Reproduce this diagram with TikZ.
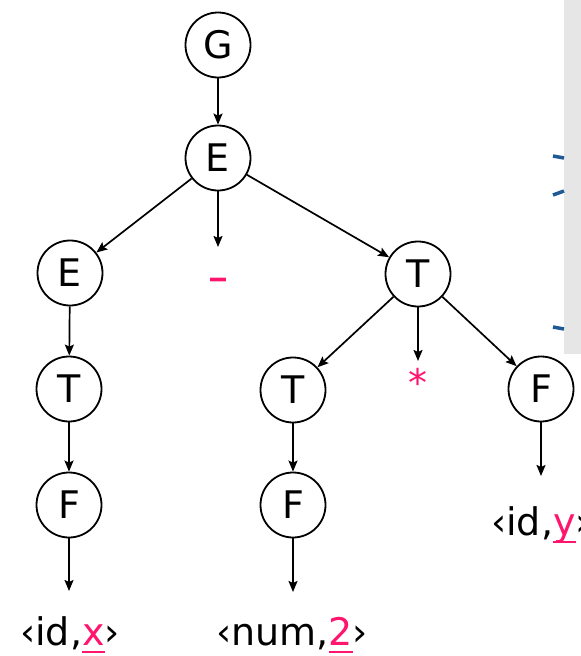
\documentclass[tikz,border=0pt]{standalone}
\usepackage{fontspec}
\setmainfont{DejaVu Sans}
\usetikzlibrary{arrows.meta}
\definecolor{pinkred}{RGB}{255,20,110}
\definecolor{greybox}{RGB}{230,230,230}
\definecolor{darkblue}{RGB}{31,90,150}
\newcommand{\pinkul}[1]{{\color{pinkred}\setbox0\hbox{#1}\rlap{\rule[-8pt]{\wd0}{2pt}}\box0}}
\begin{document}
\begin{tikzpicture}[x=1pt,y=-1pt,
  nt/.style={circle,draw,line width=1.8pt,minimum size=65pt,inner sep=0pt,fill=white,
    font=\fontsize{38}{46}\selectfont},
  lbl/.style={inner sep=0pt,font=\fontsize{38}{46}\selectfont},
  arr/.style={line width=1.7pt,-{Stealth[length=11pt,width=9pt,inset=2pt]}},
  bluemark/.style={draw=darkblue,line width=3.5pt}]
\useasboundingbox (0,0) rectangle (581,656);
\clip (0,0) rectangle (581,656);
\fill[greybox] (564,0) rectangle (581,354);
\draw[bluemark] (553,156) -- (564,158);
\draw[bluemark] (553,195) -- (564,191);
\draw[bluemark] (553,327) -- (564,329);
% nodes
\node[nt] (G) at (218,45) {G};
\node[nt] (E0) at (218,158) {E};
\node[nt] (E1) at (70,273) {E};
\node[nt] (T0) at (418,274) {T};
\node[nt] (T1) at (69,389) {T};
\node[nt] (T2) at (293,390) {T};
\node[nt] (F0) at (541,389) {F};
\node[nt] (F1) at (69,505) {F};
\node[nt] (F2) at (293,505) {F};
\node[lbl,text=pinkred] (minus) at (218,285) {\scalebox{1.6}[1.2]{-}};
\node[lbl,text=pinkred] (star) at (418,382) {*};
\node[lbl,anchor=base] (idx) at (70,645) {‹id,\pinkul{x}›};
\node[lbl,anchor=base] (num) at (292,645) {‹num,\pinkul{2}›};
\node[lbl,anchor=base west] (idy) at (491,535) {‹id,\pinkul{y}›};
\coordinate (mtop) at (218,247);
\coordinate (stop) at (418,361);
\coordinate (xtop) at (69,591);
\coordinate (ntop) at (293,592);
\coordinate (ytop) at (541,476);
% edges
\draw[arr] (G) -- (E0);
\draw[arr] (E0) -- (E1);
\draw[arr] (E0) -- (mtop);
\draw[arr] (E0) -- (T0);
\draw[arr] (E1) -- (T1);
\draw[arr] (T1) -- (F1);
\draw[arr] (F1) -- (xtop);
\draw[arr] (T0) -- (T2);
\draw[arr] (T0) -- (stop);
\draw[arr] (T0) -- (F0);
\draw[arr] (T2) -- (F2);
\draw[arr] (F2) -- (ntop);
\draw[arr] (F0) -- (ytop);
\end{tikzpicture}
\end{document}
